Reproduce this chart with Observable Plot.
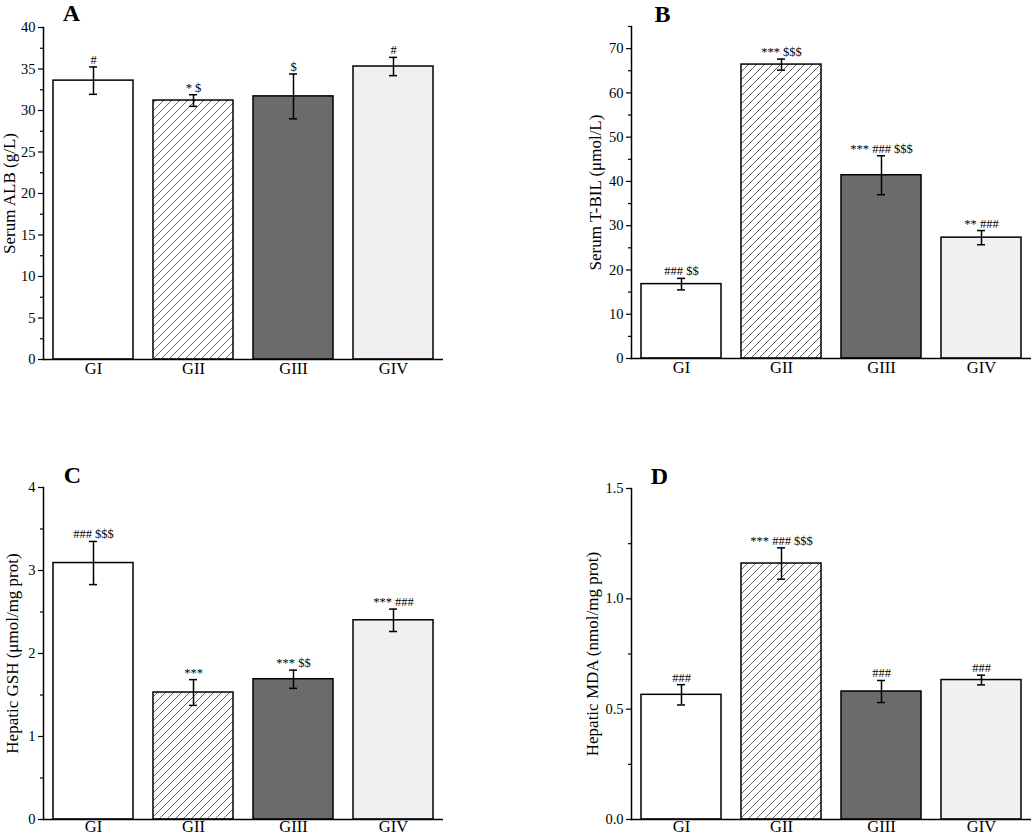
<!DOCTYPE html>
<html>
<head>
<meta charset="utf-8">
<script src="https://cdn.jsdelivr.net/npm/d3@7"></script>
<script src="https://cdn.jsdelivr.net/npm/@observablehq/plot@0.6"></script>
<style>
  html, body { margin: 0; padding: 0; background: white; }
  #wrap { position: relative; width: 1034px; height: 836px; overflow: hidden; }
  .panel { position: absolute; }
</style>
</head>
<body>
<svg width="0" height="0" style="position:absolute">
  <defs>
    <pattern id="hatch" patternUnits="userSpaceOnUse" width="8" height="8">
      <rect width="8" height="8" fill="white"></rect>
      <path d="M-2,2 L2,-2 M0,8 L8,0 M6,10 L10,6" stroke="#555" stroke-width="0.9"></path>
    </pattern>
  </defs>
</svg>
<div id="wrap"></div>
<script>
// ---- data ----
const groups = ["GI", "GII", "GIII", "GIV"];

const albMean = [33.6, 31.2, 31.7, 35.3];
const albSd   = [1.65, 0.7, 2.7, 1.1];
const albSig  = ["#", "* $", "$", "#"];

const tbilMean = [16.8, 66.4, 41.4, 27.3];
const tbilSd   = [1.3, 1.25, 4.4, 1.6];
const tbilSig  = ["### $$", "*** $$$", "*** ### $$$", "** ###"];

const gshMean = [3.09, 1.53, 1.69, 2.40];
const gshSd   = [0.26, 0.155, 0.11, 0.135];
const gshSig  = ["### $$$", "***", "*** $$", "*** ###"];

const mdaMean = [0.565, 1.16, 0.58, 0.632];
const mdaSd   = [0.046, 0.071, 0.05, 0.022];
const mdaSig  = ["###", "*** ### $$$", "###", "###"];

const albTicks = [0, 5, 10, 15, 20, 25, 30, 35, 40];
const albMinor = [2.5, 7.5, 12.5, 17.5, 22.5, 27.5, 32.5, 37.5];
const tbilTicks = [0, 10, 20, 30, 40, 50, 60, 70];
const tbilMinor = [5, 15, 25, 35, 45, 55, 65, 75];
const gshTicks = [0, 1, 2, 3, 4];
const gshMinor = [0.5, 1.5, 2.5, 3.5];
const mdaTicks = [0, 0.5, 1.0, 1.5];
const mdaMinor = [0.25, 0.75, 1.25];

// ---- style ----
const fills = ["white", "url(#hatch)", "#6b6b6b", "#f0f0f0"];
const FONT = "'Liberation Serif', 'Times New Roman', serif";

function panel(cfg) {
  const data = groups.map((g, i) => ({group: g, mean: cfg.mean[i], sd: cfg.sd[i], sig: cfg.sig[i]}));
  const hi = d => d.mean + d.sd;
  const lo = d => d.mean - d.sd;
  const plot = Plot.plot({
    width: 517, height: 418,
    marginLeft: cfg.ml, marginRight: cfg.mr, marginTop: cfg.mt, marginBottom: cfg.mb,
    style: {fontFamily: FONT, fontSize: "14px", color: "black", background: "transparent", overflow: "visible"},
    x: {domain: groups, paddingInner: 0.2, paddingOuter: 0.1, axis: null},
    y: {domain: cfg.domain, axis: null},
    color: {domain: groups, range: fills},
    marks: [
      Plot.barY(data, {x: "group", y: "mean", fill: "group", stroke: "black", strokeWidth: 1.5}),
      Plot.ruleX(data, {x: "group", y1: lo, y2: hi, stroke: "black", strokeWidth: 1.5}),
      Plot.tickY(data, {x: "group", y: hi, insetLeft: 36, insetRight: 36, stroke: "black", strokeWidth: 1.5}),
      Plot.tickY(data, {x: "group", y: lo, insetLeft: 36, insetRight: 36, stroke: "black", strokeWidth: 1.5}),
      Plot.text(data, {x: "group", y: hi, text: "sig", dy: -3, lineAnchor: "bottom", fontSize: 12.5, fill: "black"}),
      Plot.axisY({ticks: cfg.ticks, tickSize: 5, tickPadding: 3, tickFormat: cfg.fmt, fontSize: 14.5, label: null, strokeWidth: 1.2}),
      Plot.axisY({ticks: cfg.minor, tickSize: 3, tickFormat: () => "", label: null, strokeWidth: 1.2}),
      Plot.axisX({tickSize: 0, tickPadding: cfg.xpad, fontSize: 16.5, label: null}),
      Plot.frame({anchor: "left", stroke: "black", strokeWidth: 1.5}),
      Plot.ruleY([0], {stroke: "black", strokeWidth: 1.5}),
      Plot.text([cfg.label], {frameAnchor: "left", rotate: -90, dx: cfg.labelDx, textAnchor: "middle", lineAnchor: "middle", fontSize: 17}),
      Plot.text([cfg.letter], {frameAnchor: "top-left", dx: cfg.letterDx, dy: cfg.letterDy, textAnchor: "middle", lineAnchor: "middle", fontSize: 24, fontWeight: "bold"})
    ]
  });
  const div = document.createElement("div");
  div.className = "panel";
  div.style.left = cfg.left + "px";
  div.style.top = cfg.top + "px";
  div.appendChild(plot);
  document.getElementById("wrap").appendChild(div);
}

panel({mean: albMean, sd: albSd, sig: albSig, domain: [0, 40], ticks: albTicks, minor: albMinor,
  fmt: d3.format("d"), label: "Serum ALB (g/L)", letter: "A", xpad: 3,
  left: 0, top: 0, ml: 43, mr: 74, mt: 27, mb: 59, labelDx: -34, letterDx: 28, letterDy: -14});

panel({mean: tbilMean, sd: tbilSd, sig: tbilSig, domain: [0, 75], ticks: tbilTicks, minor: tbilMinor,
  fmt: d3.format("d"), label: "Serum T-BIL (μmol/L)", letter: "B", xpad: 3,
  left: 517, top: 0, ml: 114, mr: 3, mt: 26, mb: 60, labelDx: -36, letterDx: 31, letterDy: -12});

panel({mean: gshMean, sd: gshSd, sig: gshSig, domain: [0, 4], ticks: gshTicks, minor: gshMinor,
  fmt: d3.format("d"), label: "Hepatic GSH (μmol/mg prot)", letter: "C", xpad: 0.5,
  left: 0, top: 418, ml: 43, mr: 74, mt: 69, mb: 17, labelDx: -31, letterDx: 29, letterDy: -12});

panel({mean: mdaMean, sd: mdaSd, sig: mdaSig, domain: [0, 1.5], ticks: mdaTicks, minor: mdaMinor,
  fmt: d3.format(".1f"), label: "Hepatic MDA (nmol/mg prot)", letter: "D", xpad: 0.5,
  left: 517, top: 418, ml: 114, mr: 3, mt: 70, mb: 17, labelDx: -39, letterDx: 28, letterDy: -12});
</script>
</body>
</html>
